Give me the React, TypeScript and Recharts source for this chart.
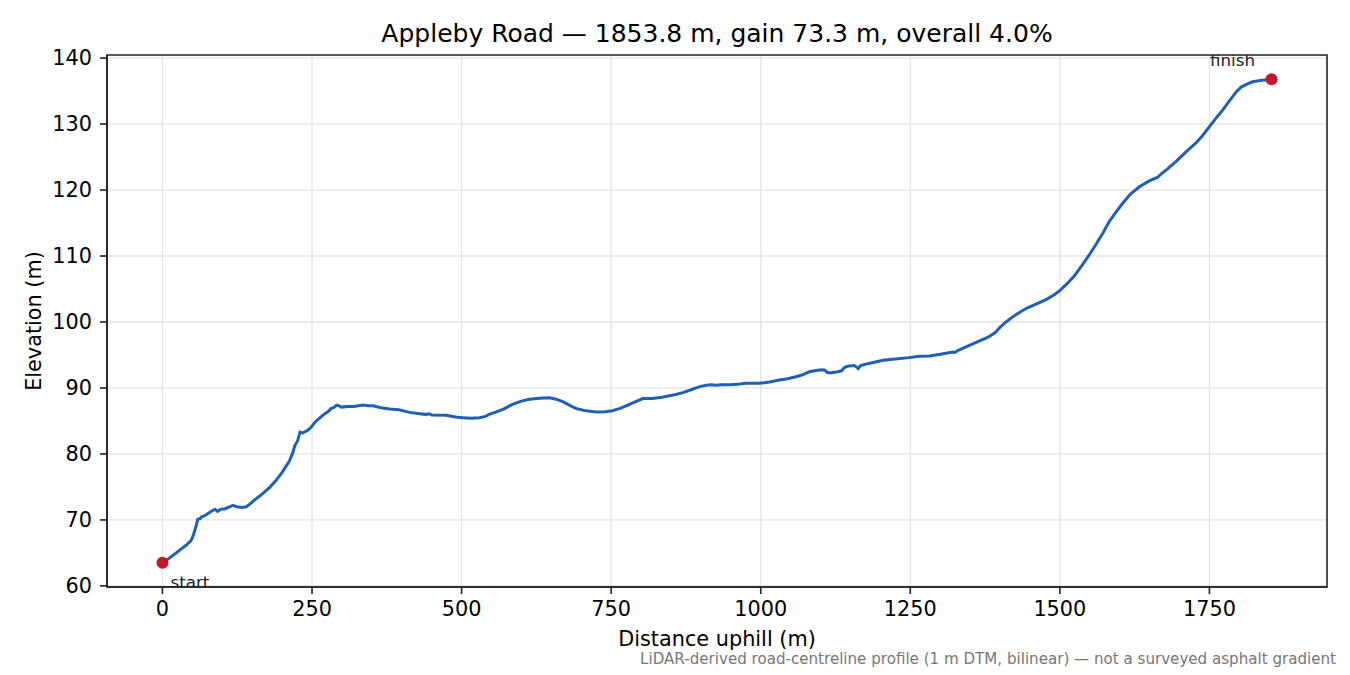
import React from "react";
import {
  ComposedChart, Line, Scatter, XAxis, YAxis, CartesianGrid, ReferenceArea,
} from "recharts";

const FONT = "'DejaVu Sans', sans-serif";
const LINE = "#1f60b5";
const DOT = "#c0192b";
const GRID = "#e4e4e4";
const AXIS = "#222222";

// distance uphill (m) and elevation (m)
const distance = [
  0, 10, 20, 30, 40, 48, 52, 56, 59, 63, 66, 70, 78, 85, 88, 92, 97, 105, 113, 118,
  124, 134, 140, 146, 155, 165, 179, 190, 200, 212, 218, 221, 226, 230, 234, 237, 243, 248, 255, 262,
  270, 278, 282, 286, 291, 295, 299, 310, 320, 335, 345, 352, 365, 380, 395, 413, 430, 440, 446, 450,
  474, 490, 502, 515, 530, 540, 546, 556, 570, 585, 600, 613, 630, 647, 658, 670, 680, 691, 705, 725,
  740, 752, 765, 775, 790, 803, 819, 835, 858, 870, 886, 898, 909, 918, 925, 935, 950, 965, 975, 998,
  1015, 1031, 1045, 1059, 1070, 1081, 1095, 1103, 1107, 1112, 1118, 1129, 1135, 1140, 1145, 1156, 1160, 1163, 1167, 1175,
  1190, 1204, 1225, 1248, 1265, 1282, 1300, 1321, 1324, 1330, 1345, 1365, 1380, 1392, 1400, 1410, 1420, 1435, 1446, 1460,
  1477, 1490, 1499, 1512, 1524, 1530, 1538, 1550, 1560, 1572, 1583, 1595, 1605, 1618, 1633, 1648, 1655, 1663, 1670, 1680,
  1694, 1710, 1727, 1738, 1750, 1762, 1772, 1785, 1795, 1803, 1812, 1822, 1835, 1853.8,
];
const elevation = [
  63.5, 64.1, 64.8, 65.5, 66.2, 66.9, 67.8, 69.0, 70.1, 70.2, 70.5, 70.6, 71.1, 71.5, 71.6, 71.3, 71.6, 71.7, 72.0, 72.2,
  72.0, 71.9, 72.0, 72.4, 73.1, 73.8, 74.9, 76.0, 77.2, 78.9, 80.2, 81.2, 82.0, 83.3, 83.2, 83.3, 83.6, 84.0, 84.8, 85.4,
  86.0, 86.5, 86.9, 87.0, 87.4, 87.3, 87.1, 87.2, 87.2, 87.4, 87.3, 87.3, 87.0, 86.8, 86.7, 86.3, 86.1, 86.0, 86.1, 85.9,
  85.85, 85.6, 85.5, 85.4, 85.5, 85.7, 86.0, 86.3, 86.8, 87.5, 88.0, 88.3, 88.45, 88.5, 88.3, 87.9, 87.4, 86.9, 86.6, 86.35,
  86.4, 86.55, 86.9, 87.3, 87.9, 88.4, 88.4, 88.6, 89.0, 89.3, 89.8, 90.2, 90.4, 90.5, 90.4, 90.5, 90.5, 90.6, 90.7, 90.7,
  90.9, 91.2, 91.4, 91.7, 92.0, 92.45, 92.7, 92.75, 92.7, 92.3, 92.3, 92.45, 92.6, 93.1, 93.3, 93.4, 93.2, 92.95, 93.4, 93.6,
  93.9, 94.2, 94.4, 94.6, 94.8, 94.85, 95.1, 95.45, 95.35, 95.7, 96.3, 97.1, 97.7, 98.4, 99.2, 100.0, 100.7, 101.6, 102.15, 102.7,
  103.4, 104.1, 104.7, 105.8, 106.95, 107.7, 108.7, 110.3, 111.7, 113.5, 115.3, 116.8, 118.0, 119.4, 120.5, 121.3, 121.6, 121.9, 122.5, 123.2,
  124.3, 125.7, 127.1, 128.2, 129.6, 131.0, 132.1, 133.7, 134.9, 135.6, 136.0, 136.4, 136.6, 136.8,
];

const xTicks = [0, 250, 500, 750, 1000, 1250, 1500, 1750];
const yTicks = [60, 70, 80, 90, 100, 110, 120, 130, 140];
const endpoints = [
  { d: 0, elev: 63.5, name: "start" },
  { d: 1853.8, elev: 136.8, name: "finish" },
];

const profile = distance.map((d, i) => ({ d, elev: elevation[i] }));

// matplotlib-style 5% padding around the data
const X_DOMAIN: [number, number] = [-92.69, 1946.49];
const Y_DOMAIN: [number, number] = [59.835, 140.465];

const tickStyle = { fill: "#000", fontSize: 20.8, fontFamily: FONT };

function EndDot(props: any) {
  const { cx, cy, payload } = props;
  const isStart = payload.name === "start";
  return (
    <g>
      <circle cx={cx} cy={cy} r={6} fill={DOT} />
      <text
        x={isStart ? cx + 8 : cx - 39}
        y={isStart ? cy + 25 : cy - 13}
        textAnchor={isStart ? "start" : "middle"}
        fontSize={16.7}
        fontFamily={FONT}
        fill="#222"
      >
        {payload.name}
      </text>
    </g>
  );
}

export default function App() {
  return (
    <div style={{ position: "absolute", left: 0, top: 0, width: 1350, height: 675, background: "#fff", fontFamily: FONT }}>
      <ComposedChart width={1350} height={675} margin={{ top: 55, right: 23, bottom: 0, left: 0 }}>
        <CartesianGrid xAxisId="main" yAxisId="main" stroke={GRID} strokeWidth={1.3}
          horizontalValues={yTicks} verticalValues={xTicks} />
        <XAxis
          xAxisId="main" dataKey="d" type="number" domain={X_DOMAIN} ticks={xTicks} allowDataOverflow
          height={88} tickSize={7} tickMargin={7} tick={tickStyle}
          axisLine={{ stroke: AXIS, strokeWidth: 1.6 }} tickLine={{ stroke: AXIS, strokeWidth: 1.6 }}
        />
        <YAxis
          yAxisId="main" type="number" domain={Y_DOMAIN} ticks={yTicks} allowDataOverflow
          width={107} tickSize={7} tickMargin={8} tick={tickStyle}
          axisLine={{ stroke: AXIS, strokeWidth: 1.6 }} tickLine={{ stroke: AXIS, strokeWidth: 1.6 }}
        />
        <ReferenceArea
          xAxisId="main" yAxisId="main" x1={X_DOMAIN[0]} x2={X_DOMAIN[1]} y1={Y_DOMAIN[0]} y2={Y_DOMAIN[1]}
          fill="none" fillOpacity={0} stroke={AXIS} strokeWidth={1.6} ifOverflow="visible"
        />
        <Line
          xAxisId="main" yAxisId="main" data={profile} dataKey="elev" type="linear"
          stroke={LINE} strokeWidth={3} dot={false} activeDot={false} isAnimationActive={false}
        />
        <Scatter
          xAxisId="main" yAxisId="main" data={endpoints} dataKey="elev"
          shape={EndDot} isAnimationActive={false}
        />
      </ComposedChart>
      <svg width={1350} height={675} style={{ position: "absolute", left: 0, top: 0, pointerEvents: "none" }}>
        <text x={717} y={42} textAnchor="middle" fontSize={25} fontFamily={FONT} fill="#000">
          Appleby Road — 1853.8 m, gain 73.3 m, overall 4.0%
        </text>
        <text x={717} y={646} textAnchor="middle" fontSize={20.8} fontFamily={FONT} fill="#000">
          Distance uphill (m)
        </text>
        <text x={41} y={321} textAnchor="middle" fontSize={20.8} fontFamily={FONT} fill="#000" transform="rotate(-90 41 321)">
          Elevation (m)
        </text>
        <text x={1336} y={664} textAnchor="end" fontSize={15.1} fontFamily={FONT} fill="#777">
          LiDAR-derived road-centreline profile (1 m DTM, bilinear) — not a surveyed asphalt gradient
        </text>
      </svg>
    </div>
  );
}
